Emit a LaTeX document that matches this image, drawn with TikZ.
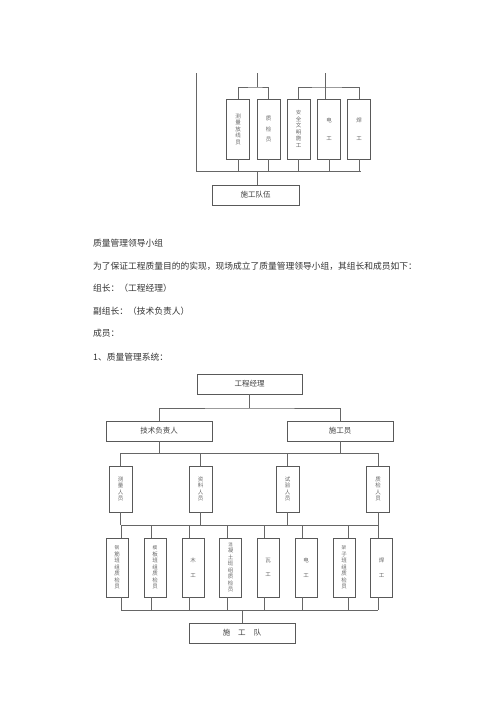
\documentclass[tikz,border=0pt]{standalone}
\usepackage{fontspec}
\setmainfont{Noto Sans CJK SC}
\begin{document}
\begin{tikzpicture}[x=1pt,y=-1pt,
  ln/.style={draw=black!60, line width=0.7pt},
  box/.style={draw=black!65, line width=0.8pt, inner sep=0pt, fill=white},
  vbox/.style={box, minimum width=23pt, align=center, text=black!60, font=\fontsize{5.5}{6.5}\selectfont},
  hbox/.style={box, minimum height=20pt, text=black!75, font=\fontsize{7.5}{9}\selectfont},
  para/.style={anchor=west, inner sep=0pt, text=black!80, font=\fontsize{8.75}{10}\selectfont}]
\useasboundingbox (0,0) rectangle (500,707);
\fill[white] (0,0) rectangle (500,707);

% ---------- top chart ----------
\node[vbox, minimum height=60pt] (t1) at (238,129) {\fontsize{5.5}{7.4}\selectfont 测\\量\\放\\线\\员};
\node[vbox, minimum height=60pt] (t2) at (268.5,129) {质\\[4pt]检\\[4pt]员};
\node[vbox, minimum height=60pt] (t3) at (298.5,129) {\fontsize{5}{6.2}\selectfont 安\\全\\文\\明\\施\\工};
\node[vbox, minimum height=60pt] (t4) at (329,129) {电\\[12pt]工};
\node[vbox, minimum height=60pt] (t5) at (359,129) {焊\\[12pt]工};
\node[hbox, minimum width=87pt] (tteam) at (255.5,195) {\raisebox{-2.5pt}{施工队伍}};

\coordinate (ltop) at (196,73);
\coordinate (lbot) at (196,171);
\coordinate (busR) at (361,171);
\coordinate (g1top) at (257,73);
\coordinate (g1bar) at (257,87);
\coordinate (g2top) at (325,73);
\coordinate (g2bar) at (325,87);
\coordinate (tbusmid) at (257,171);

\draw[ln] (ltop) -- (lbot) -- (busR);
\draw[ln] (g1top) -- (g1bar);
\draw[ln] (t1.north) |- (g1bar) -| (t2.north);
\draw[ln] (g2top) -- (g2top |- t4.north);
\draw[ln] (t3.north) |- (g2bar) -| (t5.north);
\foreach \b in {t1,t2,t3,t4,t5}{\draw[ln] (\b.south) -- (\b.south |- lbot);}
\draw[ln] (tbusmid) -- (tbusmid |- tteam.north);

% ---------- paragraph ----------
\node[para] (p1) at (93,243) {质量管理领导小组};
\node[para] (p2) at (93,266) {为了保证工程质量目的的实现，现场成立了质量管理领导小组，其组长和成员如下：};
\node[para] (p3) at (93,288) {组长：（工程经理）};
\node[para] (p4) at (93,311) {副组长：（技术负责人）};
\node[para] (p5) at (93,333) {成员：};
\node[para] (p6) at (93,357) {1、质量管理系统：};

% ---------- second chart ----------
\node[hbox, minimum width=105pt] (pm) at (249.5,384) {\raisebox{-3pt}{工程经理}};
\node[hbox, minimum width=106pt] (tech) at (159,431) {\raisebox{-3pt}{技术负责人}};
\node[hbox, minimum width=106pt] (sg) at (340,431) {\raisebox{-3pt}{施工员}};

\coordinate (bar1) at (249.5,408);
\draw[ln] (pm.south) -- (bar1);
\draw[ln] (tech.north) |- (bar1) -| (sg.north);

\node[vbox, minimum height=46pt] (r21) at (120.5,489) {测\\量\\人\\员};
\node[vbox, minimum height=46pt] (r22) at (200.5,489) {资\\料\\人\\员};
\node[vbox, minimum height=46pt] (r23) at (287.5,489) {试\\验\\人\\员};
\node[vbox, minimum height=46pt] (r24) at (378,489) {质\\检\\人\\员};

\coordinate (bus2L) at (121,453);
\coordinate (bus2R) at (378,453);
\draw[ln] (bus2L) -- (bus2R);
\draw[ln] (tech.south) -- (tech.south |- bus2L);
\draw[ln] (sg.south) -- (sg.south |- bus2L);
\foreach \b in {r21,r22,r23,r24}{\draw[ln] (\b.north |- bus2L) -- (\b.north);}

\coordinate (bus3L) at (121,525);
\coordinate (bus3R) at (378,525);
\draw[ln] (bus3L) -- (bus3R);
\foreach \b in {r21,r22,r23,r24}{\draw[ln] (\b.south) -- (\b.south |- bus3L);}

\node[vbox, minimum width=22pt, minimum height=59pt] (r31) at (117,567.5) {\fontsize{4.6}{5.8}\selectfont 钢\\筋\\班\\组\\质\\检\\员};
\node[vbox, minimum width=22pt, minimum height=59pt] (r32) at (155,567.5) {\fontsize{4.6}{5.8}\selectfont 模\\板\\班\\组\\质\\检\\员};
\node[vbox, minimum width=22pt, minimum height=59pt] (r33) at (193,567.5) {木\\[8pt]工};
\node[vbox, minimum width=22pt, minimum height=59pt] (r34) at (230.5,567.5) {\fontsize{4.4}{5.2}\selectfont 混\\凝\\土\\班\\组\\质\\检\\员};
\node[vbox, minimum width=22pt, minimum height=59pt] (r35) at (268,567.5) {瓦\\[8pt]工};
\node[vbox, minimum width=22pt, minimum height=59pt] (r36) at (306,567.5) {电\\[8pt]工};
\node[vbox, minimum width=22pt, minimum height=59pt] (r37) at (344,567.5) {\fontsize{4.6}{5.8}\selectfont 架\\子\\班\\组\\质\\检\\员};
\node[vbox, minimum width=22pt, minimum height=59pt] (r38) at (381.5,567.5) {焊\\[8pt]工};

\coordinate (x1) at (121,525);
\coordinate (x2) at (151,525);
\coordinate (x3) at (189,525);
\coordinate (x4) at (227,525);
\coordinate (x5) at (264,525);
\coordinate (x6) at (302,525);
\coordinate (x7) at (348,525);
\coordinate (x8) at (378,525);
\coordinate (bus4L) at (121,610);
\coordinate (bus4R) at (378,610);
\coordinate (bus4M) at (242,610);
\draw[ln] (bus4L) -- (bus4R);
\foreach \i in {1,...,8}{
  \draw[ln] (x\i) -- (x\i |- r3\i.north);
  \draw[ln] (x\i |- r3\i.south) -- (x\i |- bus4L);
}
\node[hbox, minimum width=106pt] (team) at (242,633) {\raisebox{-3pt}{施\hspace{8pt}工\hspace{8pt}队}};
\draw[ln] (bus4M) -- (team.north);
\end{tikzpicture}
\end{document}
